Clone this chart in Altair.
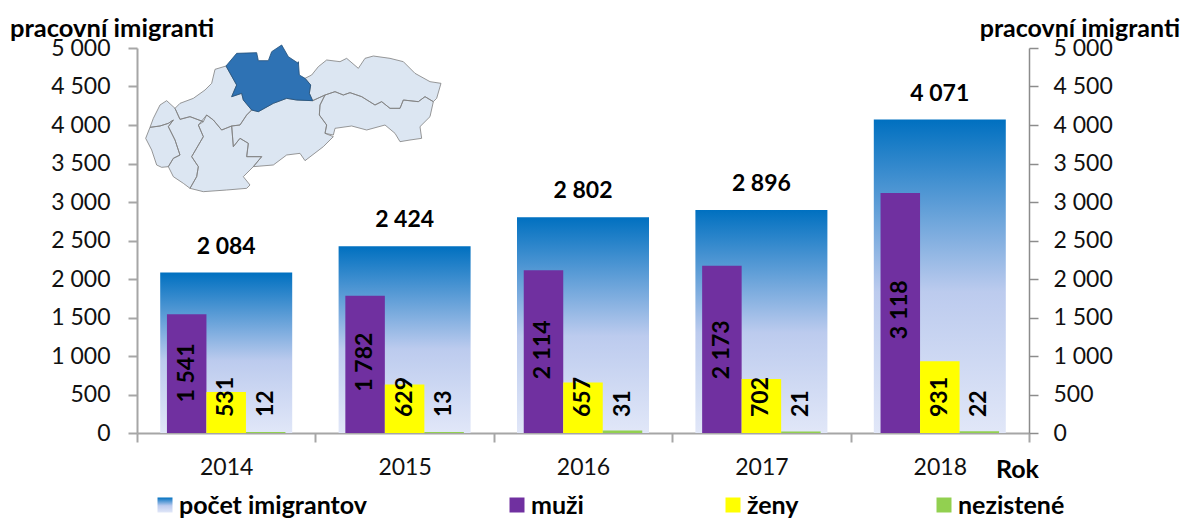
import altair as alt
import pandas as pd

years = ["2014", "2015", "2016", "2017", "2018"]
total = [2084, 2424, 2802, 2896, 4071]
muzi = [1541, 1782, 2114, 2173, 3118]
zeny = [531, 629, 657, 702, 931]
nezistene = [12, 13, 31, 21, 22]
muzi_label_at = [780, 920, 1080, 1080, 1600]
series = ["muži", "ženy", "nezistené"]
series_colors = ["#7030A0", "#FFFF00", "#92D050"]
legend_names = ["počet imigrantov", "muži", "ženy", "nezistené"]
y_ticks = [0, 500, 1000, 1500, 2000, 2500, 3000, 3500, 4000, 4500, 5000]

# map outlines: (zoom x, zoom y) in two 3x crops
Z5 = (140, 40)
Z6 = (290, 40)
zilina = [(Z5, [(258,78),(290,40),(350,38),(355,62),(385,62),(395,35),(425,15),(445,50),(475,70)]),
          (Z6, [(25,65),(28,105),(45,115),(62,135),(58,160),(68,182),(20,180)]),
          (Z5, [(440,175),(400,190),(355,215),(335,210),(310,180),(305,160),(275,170),(290,135)])]
trencin = [(Z5, [(258,78),(225,88),(215,130),(195,150),(160,175),(120,190),(105,205),(120,238),(150,230),(190,245),(200,225),(220,240),(245,270),(275,258),(300,255),(320,225),(335,210),(310,180),(305,160),(275,170),(290,135)])]
bratislava = [(Z5, [(30,262),(60,258),(85,250),(100,240),(85,260),(105,300),(120,345),(100,355),(85,380),(65,382),(50,375),(35,330),(17,295)])]
trnava = [(Z5, [(105,205),(80,182),(60,195),(40,235),(30,262),(60,258),(85,250),(100,240),(85,260),(105,300),(120,345),(100,355),(85,380),(100,410),(130,430),(150,445),(170,410),(175,380),(155,350),(190,290),(175,255),(190,245),(150,230),(120,238)])]
nitra = [(Z5, [(200,225),(175,255),(190,290),(155,350),(175,380),(170,410),(150,445),(190,455),(260,450),(320,445),(330,435),(310,410),(340,380),(365,350),(320,350),(325,310),(300,295),(280,320),(275,258),(245,270),(220,240)])]
bystrica = [(Z5, [(275,258),(280,320),(300,295),(325,310),(320,350),(365,350),(340,380),(400,375),(440,345),(480,340)]),
            (Z6, [(45,362),(100,320),(130,290),(105,280),(110,255),(88,225),(90,195),(105,165),(68,182),(20,180)]),
            (Z5, [(440,175),(400,190),(355,215),(335,210),(320,225),(300,255)])]
presov = [(Z6, [(45,115),(65,105),(85,80),(110,60),(150,65),(170,55),(205,85),(225,55),(250,48),(300,55),(340,65),(375,100),(420,125),(453,130),(440,175),(430,185),(405,170),(385,185),(340,180),(330,205),(300,205),(275,185),(255,195),(215,170),(180,158),(160,165),(135,155),(105,165),(68,182),(58,160),(62,135)])]
kosice = [(Z6, [(105,165),(135,155),(160,165),(180,158),(215,170),(255,195),(275,185),(300,205),(330,205),(340,180),(385,185),(405,170),(430,185),(420,230),(390,260),(395,295),(360,300),(330,305),(315,280),(285,255),(230,270),(185,258),(135,265),(130,285),(105,280),(110,255),(88,225),(90,195)])]

MAP_CX, MAP_CY, MAP_R = 292, 118, 150

def region_path(parts):
    pts = []
    for (ox, oy), zoomed in parts:
        pts += [(ox + zx / 3, oy + zy / 3) for zx, zy in zoomed]
    norm = [((x - MAP_CX) / MAP_R, (y - MAP_CY) / MAP_R) for x, y in pts]
    return "M" + "L".join(f"{x:.4f},{y:.4f}" for x, y in norm) + "Z"

light_path = " ".join(region_path(r) for r in [trencin, bratislava, trnava, nitra, bystrica, presov, kosice])
dark_path = region_path(zilina)

FONT = "Lato"
AXIS_COLOR = "#a6a6a6"
PLOT_LEFT, PLOT_TOP, PLOT_W, PLOT_H = 137, 48, 892, 385
THOUSANDS = "replace(format(datum.value, ','), ',', ' ')"

gradient = {
    "gradient": "linear", "x1": 0, "y1": 0, "x2": 0, "y2": 1,
    "stops": [
        {"offset": 0, "color": "#0070C0"},
        {"offset": 0.55, "color": "#BCCBEE"},
        {"offset": 1, "color": "#E1E7F8"},
    ],
}

totals = pd.DataFrame({"year": years, "value": total})
cluster = pd.DataFrame(
    [{"year": y, "series": s, "value": v, "anchor": a}
     for s, vals in zip(series, [muzi, zeny, nezistene])
     for y, v, a in zip(years, vals, muzi_label_at)]
)

x_scale = alt.Scale(domain=years, paddingInner=0, paddingOuter=0)
y_scale = alt.Scale(domain=[0, 5000], nice=False, zero=True)
x_enc = alt.X("year:N", scale=x_scale, title=None, axis=alt.Axis(
    labelAngle=0, labelFont=FONT, labelFontSize=23, labelColor="#111111", labelPadding=14,
    tickBand="extent", tickSize=9, tickWidth=2, tickColor=AXIS_COLOR,
    domainColor=AXIS_COLOR, domainWidth=2, grid=False))
off_enc = alt.XOffset("series:N", scale=alt.Scale(domain=series, paddingInner=0, paddingOuter=0.758))
no_axis_y = alt.Y("value:Q", scale=y_scale, axis=None)


def y_axis(orient, pad, color, width):
    return alt.Axis(orient=orient, values=y_ticks, labelExpr=THOUSANDS, title=None, grid=False,
                    labelFont=FONT, labelFontSize=23, labelColor="#111111", labelPadding=pad,
                    tickSize=9, tickWidth=width, tickColor=color,
                    domainColor=color, domainWidth=width)


bars_total = alt.Chart(totals).mark_bar(width=132, fill=gradient, stroke=None).encode(
    x=x_enc, y=alt.Y("value:Q", scale=y_scale, axis=y_axis("left", 18, AXIS_COLOR, 2)))
label_total = alt.Chart(totals).transform_calculate(
    label=THOUSANDS
).mark_text(font=FONT, fontSize=23, fontWeight="bold", color="#000000", baseline="middle", dy=-26).encode(
    x=x_enc, y=no_axis_y, text="label:N")
bars_cluster = alt.Chart(cluster).mark_bar().encode(
    x=x_enc, xOffset=off_enc, y=no_axis_y,
    color=alt.Color("series:N", scale=alt.Scale(domain=series, range=series_colors), legend=None))

fmt = alt.Chart(cluster).transform_calculate(label=THOUSANDS)
label_muzi = fmt.transform_filter(alt.datum.series == "muži").mark_text(
    font=FONT, fontSize=23, fontWeight="bold", color="#000000", angle=270, baseline="middle", align="center"
).encode(x=x_enc, xOffset=off_enc, y=alt.Y("anchor:Q", scale=y_scale, axis=None), text="label:N")
label_rest = fmt.transform_filter(alt.datum.series != "muži").mark_text(
    font=FONT, fontSize=23, fontWeight="bold", color="#000000", angle=270, baseline="middle", align="left"
).encode(x=x_enc, xOffset=off_enc, y=alt.value(417 - PLOT_TOP), text="label:N")
right_axis = alt.Chart(totals).mark_bar(opacity=0).encode(
    x=x_enc, y=alt.Y("value:Q", scale=y_scale, axis=y_axis("right", 15, "#8c8c8c", 1.5)))

one = pd.DataFrame({"k": [0]})
map_light = alt.Chart(one).mark_point(
    shape=light_path, size=(2 * MAP_R) ** 2, filled=True, fill="#DCE6F2", stroke="#7f7f7f",
    strokeWidth=0.8, opacity=1
).encode(x=alt.value(MAP_CX - PLOT_LEFT), y=alt.value(MAP_CY - PLOT_TOP))
map_dark = alt.Chart(one).mark_point(
    shape=dark_path, size=(2 * MAP_R) ** 2, filled=True, fill="#2E72B4", stroke="#1F4E79",
    strokeWidth=0.8, opacity=1
).encode(x=alt.value(MAP_CX - PLOT_LEFT), y=alt.value(MAP_CY - PLOT_TOP))


def page_text(text, px, py, size=25, weight="bold", align="left"):
    return alt.Chart(pd.DataFrame({"t": [text]})).mark_text(
        font=FONT, fontSize=size, fontWeight=weight, color="#000000", align=align, baseline="middle"
    ).encode(x=alt.value(px - PLOT_LEFT), y=alt.value(py - PLOT_TOP), text="t:N")


def swatch(fill, px, py):
    return alt.Chart(pd.DataFrame({"t": [0]})).mark_square(
        size=225, fill=fill, filled=True, opacity=1, stroke=None
    ).encode(x=alt.value(px - PLOT_LEFT), y=alt.value(py - PLOT_TOP))


legend_x = [165, 517, 733, 944]
legend_fills = [gradient] + series_colors
legend_layers = []
for name, fill, lx in zip(legend_names, legend_fills, legend_x):
    legend_layers.append(swatch(fill, lx, 505))
    legend_layers.append(page_text(name, lx + 14, 506, size=25))

chart = alt.layer(
    bars_total, bars_cluster, label_total, label_muzi, label_rest, right_axis,
    map_light, map_dark,
    page_text("pracovní imigranti", 10, 29, size=25.5),
    page_text("pracovní imigranti", 1180, 29, size=25, align="right"),
    page_text("Rok", 996, 470),
    *legend_layers,
).resolve_scale(y="independent").properties(
    width=PLOT_W, height=PLOT_H,
    padding={"left": PLOT_LEFT - 8, "top": PLOT_TOP - 8, "right": 1173 - (PLOT_LEFT - 8) - PLOT_W,
             "bottom": 510 - (PLOT_TOP - 8) - PLOT_H},
    autosize=alt.AutoSizeParams(type="none"),
).configure_view(stroke=None)

chart.save("out.html", embed_options={"renderer": "svg", "actions": False})
